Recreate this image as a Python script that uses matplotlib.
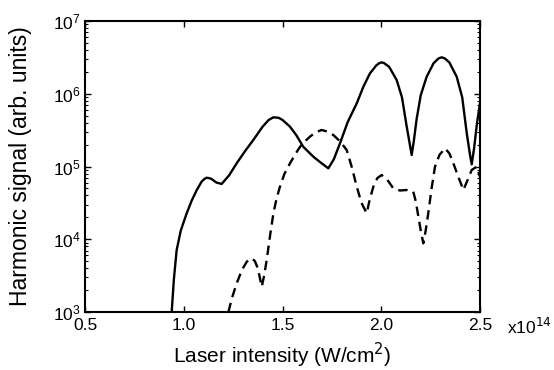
import matplotlib
matplotlib.use("Agg")
import matplotlib.pyplot as plt
import numpy as np
from matplotlib.ticker import LogLocator, NullFormatter, FixedLocator

plt.rcParams['font.family'] = ['Liberation Sans', 'DejaVu Sans']

# Intensity in units of 1e14 W/cm^2, signal as log10
solid_x = [0.939, 0.950, 0.964, 0.985, 1.015, 1.040, 1.066, 1.090, 1.105, 1.116, 1.128, 1.140,
           1.165, 1.192, 1.230, 1.268, 1.310, 1.352, 1.400, 1.430, 1.454, 1.480, 1.500, 1.538,
           1.570, 1.605, 1.656, 1.700, 1.732, 1.760, 1.791, 1.830, 1.876, 1.910,
           1.943, 1.975, 1.990, 2.002, 2.015, 2.040, 2.078, 2.105, 2.129, 2.145, 2.154, 2.165,
           2.179, 2.200, 2.230, 2.265, 2.290, 2.306, 2.322, 2.345, 2.382, 2.410, 2.433, 2.450,
           2.458, 2.470, 2.485, 2.500]
solid_y = [3.00, 3.45, 3.85, 4.12, 4.357, 4.53, 4.677, 4.79, 4.83, 4.846, 4.84, 4.83,
           4.78, 4.76, 4.88, 5.044, 5.21, 5.364, 5.55, 5.64, 5.676, 5.67, 5.64, 5.547,
           5.43, 5.272, 5.135, 5.04, 4.975, 5.10, 5.318, 5.61, 5.869, 6.10,
           6.281, 6.39, 6.42, 6.432, 6.42, 6.37, 6.189, 5.95, 5.547, 5.30, 5.158, 5.35,
           5.65, 5.98, 6.234, 6.42, 6.485, 6.501, 6.485, 6.43, 6.234, 5.95, 5.456, 5.15,
           5.03, 5.25, 5.60, 5.869]

dash_x = [1.226, 1.245, 1.268, 1.295, 1.319, 1.344, 1.360, 1.375, 1.395, 1.407,
          1.420, 1.437, 1.454, 1.470, 1.487, 1.510, 1.538, 1.565, 1.589, 1.615,
          1.639, 1.668, 1.698, 1.728, 1.757, 1.790, 1.825, 1.850, 1.876, 1.900,
          1.926, 1.942, 1.960, 1.980, 2.002, 2.030, 2.061, 2.095, 2.129, 2.162,
          2.175, 2.188, 2.200, 2.213, 2.225, 2.238, 2.255, 2.272, 2.295, 2.323,
          2.345, 2.365, 2.390, 2.416, 2.435, 2.458, 2.483, 2.500]
dash_y = [3.00, 3.20, 3.394, 3.58, 3.691, 3.738, 3.70, 3.60, 3.348, 3.50,
          3.715, 4.05, 4.357, 4.56, 4.722, 4.90, 5.044, 5.17, 5.272, 5.35,
          5.41, 5.47, 5.502, 5.48, 5.433, 5.35, 5.227, 5.00, 4.722, 4.50,
          4.357, 4.55, 4.722, 4.84, 4.883, 4.82, 4.70, 4.67, 4.677, 4.654,
          4.52, 4.31, 4.12, 3.944, 4.12, 4.357, 4.70, 4.997, 5.16, 5.25,
          5.18, 5.044, 4.86, 4.677, 4.80, 4.952, 4.997, 4.86]

x_ticks = [0.5, 1.0, 1.5, 2.0, 2.5]
x_ticklabels = ['0.5', '1.0', '1.5', '2.0', '2.5']
y_ticks = [1e3, 1e4, 1e5, 1e6, 1e7]

fig = plt.figure(figsize=(5.54, 3.70), dpi=100)
ax = fig.add_axes([85/554, 1 - 312/370, 395/554, 291/370])

ax.plot(solid_x, 10 ** np.array(solid_y), color='black', lw=1.7, solid_joinstyle='round')
ax.plot(dash_x, 10 ** np.array(dash_y), color='black', lw=1.7, linestyle=(0, (4, 2.5)),
        dash_joinstyle='round')

ax.set_yscale('log')
ax.set_xlim(0.5, 2.5)
ax.set_ylim(1e3, 1e7)
ax.set_xticks(x_ticks)
ax.set_xticklabels(x_ticklabels)
ax.yaxis.set_major_locator(FixedLocator(y_ticks))
ax.yaxis.set_minor_locator(LogLocator(base=10, subs=np.arange(2, 10)))
ax.yaxis.set_minor_formatter(NullFormatter())

ax.tick_params(axis='both', which='major', direction='in', length=4, width=1.0,
               labelsize=12.5, top=True, right=True)
ax.tick_params(axis='x', which='major', pad=4)
ax.tick_params(axis='y', which='major', pad=3)
ax.tick_params(axis='y', which='minor', direction='in', length=2.5, width=0.8, right=True)
ax.tick_params(axis='x', which='minor', bottom=False, top=False)
for s in ax.spines.values():
    s.set_linewidth(1.5)

ax.set_xlabel('Laser intensity (W/cm$^2$)', fontsize=15)
ax.xaxis.set_label_coords(0.5, -0.1)
ax.set_ylabel('Harmonic signal (arb. units)', fontsize=16.5)
ax.yaxis.set_label_coords(-0.135, 0.5)
fig.text(507/554, 1 - 327/370, r'x10$^{14}$', fontsize=12.5, ha='left', va='center')

fig.savefig('out.png', dpi=100)
